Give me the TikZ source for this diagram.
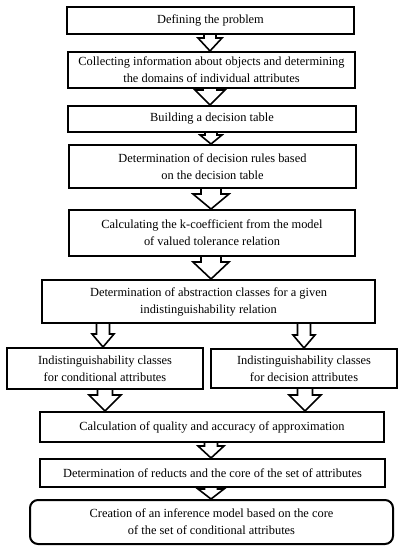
\documentclass[tikz,border=0pt]{standalone}
\usepackage{fontspec}
\setmainfont{Liberation Serif}
\usetikzlibrary{calc}
\tikzset{
  box/.style={draw=black, line width=2pt, fill=white, rectangle, inner sep=0pt, align=center,
    font=\fontsize{12.4}{17}\selectfont},
  rbox/.style={box, rounded corners=8pt},
  arr/.style={draw=black, line width=1.6pt, fill=white, line join=miter},
}
% #1 from node, #2 to node, #3 x centre, #4 shaft half width, #5 head half width, #6 head length
\newcommand\blockarr[6]{%
  \path[arr] let \p1=(#1.south), \p2=(#2.north) in
    (#3pt-#4pt,\y1) -- (#3pt-#4pt,\y2+#6pt) -- (#3pt-#5pt,\y2+#6pt) -- (#3pt,\y2)
    -- (#3pt+#5pt,\y2+#6pt) -- (#3pt+#4pt,\y2+#6pt) -- (#3pt+#4pt,\y1);}
\begin{document}
\begin{tikzpicture}[x=1pt,y=-1pt]
\useasboundingbox[fill=white] (0,0) rectangle (404,550);
\node[box, minimum width=287pt, minimum height=27pt] (b1) at (210.5,20.5) {Defining the problem};
\node[box, minimum width=287pt, minimum height=36pt] (b2) at (211.5,70) {Collecting information about objects and determining\\the domains of individual attributes};
\node[box, minimum width=288pt, minimum height=26pt] (b3) at (212,119) {Building a decision table};
\node[box, minimum width=287pt, minimum height=43pt] (b4) at (212.5,166.5) {Determination of decision rules based\\on the decision table};
\node[box, minimum width=286pt, minimum height=46pt] (b5) at (212,233) {Calculating the k-coefficient from the model\\of valued tolerance relation};
\node[box, minimum width=333pt, minimum height=43pt] (b6) at (208.5,301.5) {Determination of abstraction classes for a given\\indistinguishability relation};
\node[box, minimum width=196pt, minimum height=41pt] (b7a) at (105,368.5) {Indistinguishability classes\\for conditional attributes};
\node[box, minimum width=186pt, minimum height=39pt] (b7b) at (304,368.5) {Indistinguishability classes\\for decision attributes};
\node[box, minimum width=344pt, minimum height=30pt] (b8) at (212,427) {Calculation of quality and accuracy of approximation};
\node[box, minimum width=345pt, minimum height=28pt] (b9) at (212.5,473) {Determination of reducts and the core of the set of attributes};
\node[rbox, minimum width=363pt, minimum height=44pt] (b10) at (211.5,522) {Creation of an inference model based on the core\\of the set of conditional attributes};
\blockarr{b1}{b2}{210}{6}{12}{13}
\blockarr{b2}{b3}{210}{7}{15}{15}
\blockarr{b3}{b4}{211}{6}{11}{9}
\blockarr{b4}{b5}{211}{10}{18}{15}
\blockarr{b5}{b6}{211}{10}{18}{17}
\blockarr{b6}{b7a}{103}{6.5}{11}{13}
\blockarr{b6}{b7b}{304}{6.5}{11}{13}
\blockarr{b7a}{b8}{105}{7.5}{16}{16}
\blockarr{b7b}{b8}{305}{7.5}{16}{16}
\blockarr{b8}{b9}{211}{6.5}{13}{12}
\blockarr{b9}{b10}{211}{6.5}{13}{10}
\end{tikzpicture}
\end{document}
